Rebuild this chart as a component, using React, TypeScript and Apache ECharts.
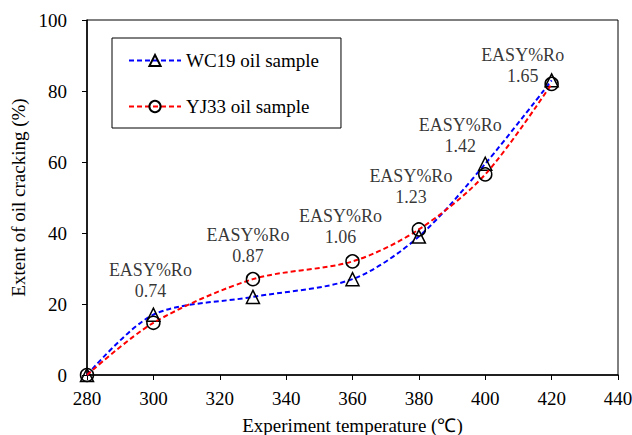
import React, { useEffect, useRef } from "react";
import * as echarts from "echarts";

// Experiment temperatures (°C)
const temperatures = [280, 300, 330, 360, 380, 400, 420];
// Extent of oil cracking (%)
const wc19Values = [0, 17, 22, 27, 39, 59.5, 83];
const yj33Values = [0, 14.7, 27, 32, 41, 56.5, 82];
// EASY%Ro maturity at each heated step (280 °C has none)
const easyRoTemps = [300, 330, 360, 380, 400, 420];
const easyRoValues = ["0.74", "0.87", "1.06", "1.23", "1.42", "1.65"];

const xTicks = { min: 280, max: 440, interval: 20 };
const yTicks = { min: 0, max: 100, interval: 20 };

const FONT = "Liberation Serif";

// pixel shift of each annotation block from its anchor point
const roLabelShift: [number, number][] = [
  [-3, -34],
  [-5, -34],
  [-12, -35],
  [-8, -43],
  [-25, -28],
  [-29, -15],
];

export default function App() {
  const ref = useRef<HTMLDivElement>(null);

  useEffect(() => {
    if (!ref.current) return;
    const chart = echarts.init(ref.current, undefined, { renderer: "svg" });

    const wcData = temperatures.map((t, i) => [t, wc19Values[i]]);
    const yjData = temperatures.map((t, i) => [t, yj33Values[i]]);
    const roData = easyRoTemps.map((t, i) => {
      const idx = temperatures.indexOf(t);
      const top = Math.max(wc19Values[idx], yj33Values[idx]);
      return {
        value: [t, top],
        ro: easyRoValues[i],
        label: { offset: roLabelShift[i] },
      };
    });

    const dashed = { width: 2, type: [5, 3] as number[] };
    const txt = { fontFamily: FONT, fontSize: 19, color: "#000" };

    chart.setOption({
      animation: false,
      backgroundColor: "#fff",
      textStyle: { fontFamily: FONT },
      grid: {
        left: 87,
        top: 20,
        width: 531,
        height: 355,
        containLabel: false,
        outerBoundsMode: "none",
        show: true,
        borderColor: "#000",
        borderWidth: 1,
        backgroundColor: "transparent",
      },
      legend: {
        orient: "vertical",
        left: 112,
        top: 38,
        itemWidth: 52,
        itemHeight: 14,
        itemGap: 27,
        padding: [13, 22, 12, 16],
        borderColor: "#000",
        borderWidth: 1,
        data: ["WC19 oil sample", "YJ33 oil sample"],
        textStyle: { ...txt },
      },
      xAxis: {
        type: "value",
        min: xTicks.min,
        max: xTicks.max,
        interval: xTicks.interval,
        name: "Experiment temperature (℃)",
        nameLocation: "middle",
        nameGap: 41,
        nameTextStyle: { ...txt },
        axisLine: { show: true, lineStyle: { color: "#000", width: 1.5 } },
        axisTick: { show: true, inside: false, length: 5, lineStyle: { color: "#000", width: 1 } },
        axisLabel: { ...txt, margin: 14 },
        splitLine: { show: false },
      },
      yAxis: {
        type: "value",
        min: yTicks.min,
        max: yTicks.max,
        interval: yTicks.interval,
        name: "Extent of oil cracking (%)",
        nameLocation: "middle",
        nameGap: 54,
        nameTextStyle: { ...txt },
        axisLine: { show: true, lineStyle: { color: "#000", width: 1.5 } },
        axisTick: { show: true, inside: false, length: 5, lineStyle: { color: "#000", width: 1 } },
        axisLabel: { ...txt, margin: 20 },
        splitLine: { show: false },
      },
      series: [
        {
          name: "WC19 oil sample",
          type: "line",
          data: wcData,
          smooth: 0.3,
          clip: false,
          symbol: "triangle",
          symbolSize: 13,
          lineStyle: { color: "#0000FF", ...dashed },
          itemStyle: { color: "transparent", borderColor: "#000", borderWidth: 1.5 },
          z: 3,
        },
        {
          name: "YJ33 oil sample",
          type: "line",
          data: yjData,
          smooth: 0.3,
          clip: false,
          symbol: "circle",
          symbolSize: 13,
          lineStyle: { color: "#FF0000", ...dashed },
          itemStyle: { color: "transparent", borderColor: "#000", borderWidth: 1.5 },
          z: 4,
        },
        {
          name: "EASY%Ro",
          type: "scatter",
          data: roData,
          symbolSize: 1,
          itemStyle: { color: "transparent" },
          silent: true,
          z: 5,
          label: {
            show: true,
            position: "inside",
            align: "center",
            verticalAlign: "middle",
            fontFamily: FONT,
            fontSize: 18,
            lineHeight: 21,
            color: "#000",
            formatter: (p: any) => "EASY%Ro\n" + p.data.ro,
          },
        },
      ],
    });

    return () => chart.dispose();
  }, []);

  return (
    <div
      ref={ref}
      style={{ position: "fixed", left: 0, top: 0, width: 632, height: 435 }}
    />
  );
}
